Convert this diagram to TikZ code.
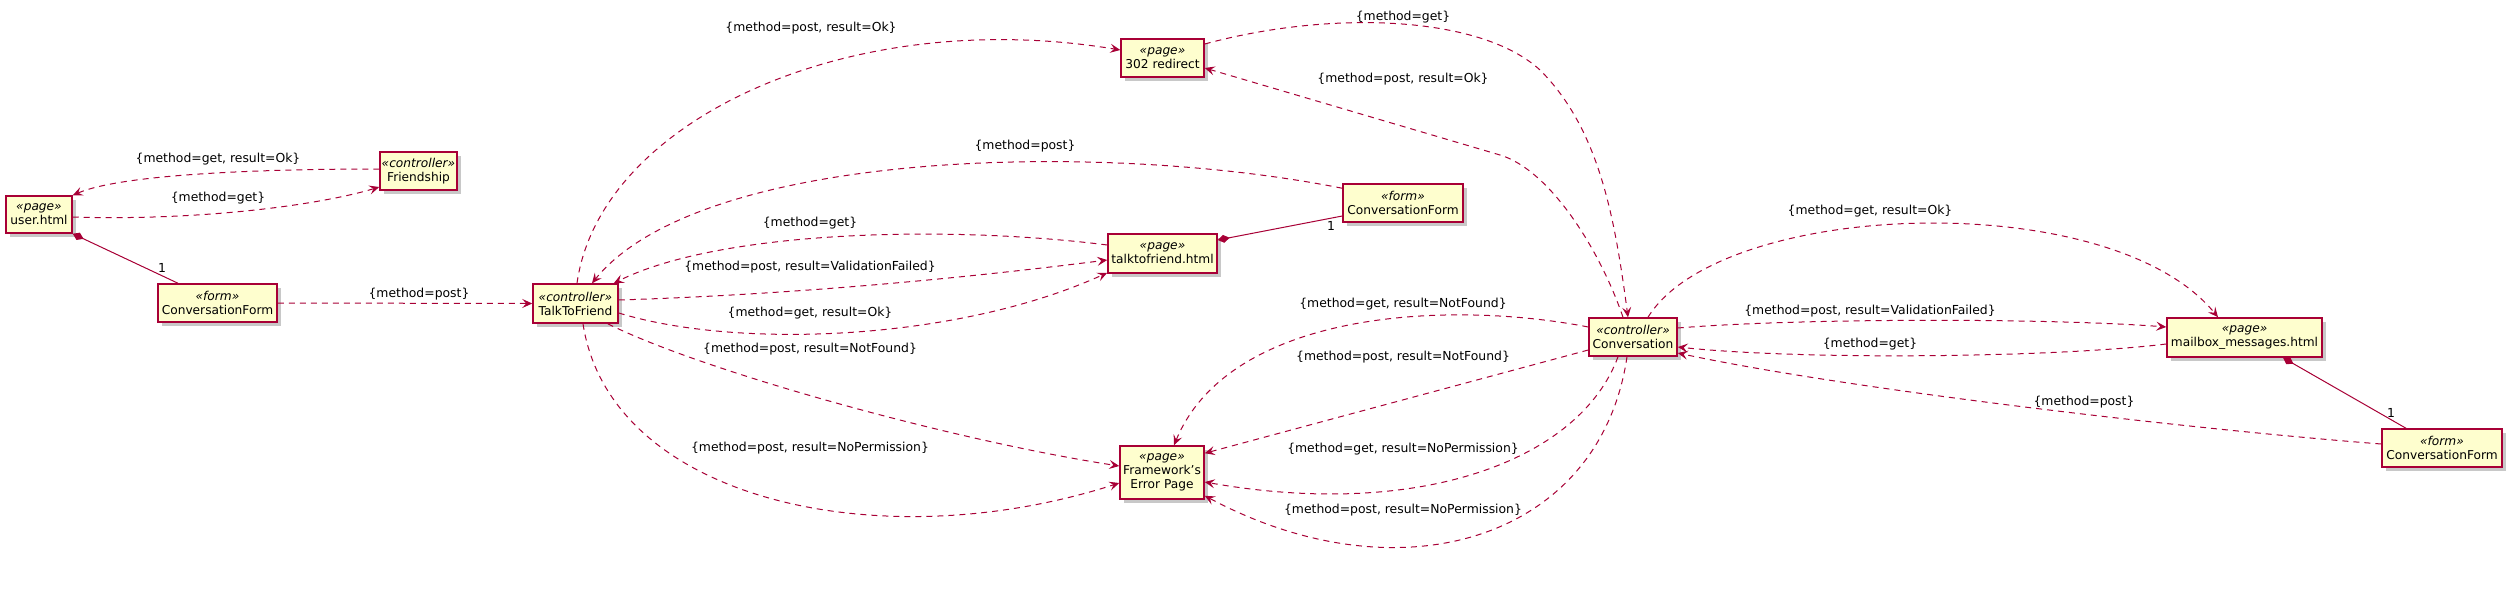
\documentclass[tikz,border=0pt]{standalone}
\usepackage{fontspec}
\setmainfont{DejaVu Sans}
\usetikzlibrary{arrows.meta,shadows}
\definecolor{umlred}{HTML}{A80036}
\definecolor{umlfill}{HTML}{FEFECE}
\tikzset{
  box/.style={draw=umlred, line width=1.5pt, fill=umlfill, inner sep=0pt, align=center,
    font=\fontsize{12.2}{14}\selectfont,
    drop shadow={shadow xshift=4pt, shadow yshift=-4pt, opacity=0.3, fill=black!70}},
  dep/.style={draw=umlred, line width=1pt, dash pattern=on 6pt off 5pt,
    -{Stealth[length=10pt,width=9pt,inset=4pt,fill=umlred]}},
  comp/.style={draw=umlred, line width=1pt, {Diamond[length=12pt,width=8pt,fill=umlred]}-},
  lbl/.style={inner sep=0pt, font=\fontsize{12.4}{14}\selectfont},
}
\newcommand{\st}[1]{{\itshape «#1»}}
\begin{document}
\begin{tikzpicture}[x=1pt,y=-1pt]
\useasboundingbox[fill=white] (0,0) rectangle (2511,589);
% nodes
\node[box, minimum width=66pt, minimum height=37pt] (user) at (39,214.5) {\st{page}\\user.html};
\node[box, minimum width=77pt, minimum height=38pt] (friend) at (418.5,171) {\st{controller}\\Friendship};
\node[box, minimum width=119pt, minimum height=38pt] (cfa) at (217.5,303) {\st{form}\\ConversationForm};
\node[box, minimum width=85pt, minimum height=39pt] (ttf) at (575.5,303.5) {\st{controller}\\TalkToFriend};
\node[box, minimum width=83pt, minimum height=38pt] (redir) at (1162.5,58) {\st{page}\\302 redirect};
\node[box, minimum width=120pt, minimum height=38pt] (cfb) at (1403,203) {\st{form}\\ConversationForm};
\node[box, minimum width=109pt, minimum height=39pt] (ttfh) at (1162.5,253.5) {\st{page}\\talktofriend.html};
\node[box, minimum width=84pt, minimum height=53pt] (err) at (1162,472.5) {\st{page}\\Framework's\\Error Page};
\node[box, minimum width=88pt, minimum height=38pt] (conv) at (1633,337) {\st{controller}\\Conversation};
\node[box, minimum width=155pt, minimum height=39pt] (mail) at (2244.5,337.5) {\st{page}\\mailbox\_messages.html};
\node[box, minimum width=120pt, minimum height=38pt] (cfc) at (2442,448) {\st{form}\\ConversationForm};

% connectors
\draw[dep] ([shift={(0,-2)}]friend.west) .. controls (250,169) and (120,175) .. (user.north east);
\draw[dep] ([shift={(0,2.5)}]user.east) .. controls (200,221) and (320,205) .. ([shift={(0,16)}]friend.west);
\draw[comp] (user.south east) -- ([shift={(-39.5,0)}]cfa.north);
\draw[dep] (cfa.east) -- (ttf.west);
\draw[dep] ([shift={(1.5,0)}]ttf.north) .. controls (600,120) and (850,5) .. ([shift={(0,-8)}]redir.west);
\draw[dep] ([shift={(0,5)}]cfb.north west) .. controls (1100,140) and (700,150) .. ([shift={(16.5,0)}]ttf.north);
\draw[dep] ([shift={(0,-8.5)}]ttfh.west) .. controls (950,225) and (720,230) .. ([shift={(-5,0)}]ttf.north east);
\draw[dep] ([shift={(0,-3.5)}]ttf.east) .. controls (780,295) and (950,280) .. ([shift={(0,6.5)}]ttfh.west);
\draw[dep] ([shift={(0,9.5)}]ttf.east) .. controls (740,350) and (960,340) .. ([shift={(0,-1)}]ttfh.south west);
\draw[dep] ([shift={(-11,0)}]ttf.south east) .. controls (700,370) and (950,440) .. ([shift={(0,-6.5)}]err.west);
\draw[dep] ([shift={(7.5,0)}]ttf.south) .. controls (610,500) and (880,560) .. ([shift={(0,10.5)}]err.west);
\draw[comp] ([shift={(0,-13.5)}]ttfh.east) -- ([shift={(0,13)}]cfb.west);
\draw[dep] ([shift={(0,-14)}]redir.east) .. controls (1330,10) and (1480,15) .. (1540,70) .. controls (1600,130) and (1615,220) .. ([shift={(-5,0)}]conv.north);
\draw[dep] ([shift={(-10,0)}]conv.north) .. controls (1600,250) and (1550,170) .. (1500,155) -- ([shift={(0,10)}]redir.east);
\draw[dep] ([shift={(0,-10)}]conv.west) .. controls (1450,300) and (1230,310) .. ([shift={(12,0)}]err.north);
\draw[dep] ([shift={(0,13)}]conv.west) -- ([shift={(0,8)}]err.north east);
\draw[dep] ([shift={(-15,0)}]conv.south) .. controls (1580,460) and (1420,520) .. ([shift={(0,9.5)}]err.east);
\draw[dep] ([shift={(-6,0)}]conv.south) .. controls (1600,540) and (1400,600) .. ([shift={(0,-4)}]err.south east);
\draw[dep] ([shift={(15,0)}]conv.north) .. controls (1720,200) and (2110,185) .. ([shift={(-26.5,0)}]mail.north);
\draw[dep] ([shift={(0,-9)}]conv.east) .. controls (1800,318) and (2050,318) .. ([shift={(0,-10.5)}]mail.west);
\draw[dep] ([shift={(0,6.5)}]mail.west) .. controls (2050,358) and (1800,360) .. ([shift={(0,10)}]conv.east);
\draw[dep] ([shift={(0,-4)}]cfc.west) .. controls (2200,430) and (1850,390) .. ([shift={(0,16)}]conv.east);
\draw[comp] ([shift={(38.5,0)}]mail.south) -- ([shift={(-36,0)}]cfc.north);

% labels
\node[lbl] (l1) at (218,159) {\{method=get, result=Ok\}};
\node[lbl] (l2) at (218,198) {\{method=get\}};
\node[lbl] (m1) at (162,268) {1};
\node[lbl] (l3) at (419,294) {\{method=post\}};
\node[lbl] (l4) at (811,28) {\{method=post, result=Ok\}};
\node[lbl] (l5) at (1025,146) {\{method=post\}};
\node[lbl] (l6) at (810,223) {\{method=get\}};
\node[lbl] (l7) at (810,267) {\{method=post, result=ValidationFailed\}};
\node[lbl] (l8) at (810,313) {\{method=get, result=Ok\}};
\node[lbl] (l9) at (810,349) {\{method=post, result=NotFound\}};
\node[lbl] (l10) at (810,448) {\{method=post, result=NoPermission\}};
\node[lbl] (m2) at (1331,226) {1};
\node[lbl] (l11) at (1403,17) {\{method=get\}};
\node[lbl] (l12) at (1403,79) {\{method=post, result=Ok\}};
\node[lbl] (l13) at (1403,304) {\{method=get, result=NotFound\}};
\node[lbl] (l14) at (1403,357) {\{method=post, result=NotFound\}};
\node[lbl] (l15) at (1403,449) {\{method=get, result=NoPermission\}};
\node[lbl] (l16) at (1403,510) {\{method=post, result=NoPermission\}};
\node[lbl] (l17) at (1870,211) {\{method=get, result=Ok\}};
\node[lbl] (l18) at (1870,311) {\{method=post, result=ValidationFailed\}};
\node[lbl] (l19) at (1870,344) {\{method=get\}};
\node[lbl] (l20) at (2084,402) {\{method=post\}};
\node[lbl] (m3) at (2391,413) {1};
\end{tikzpicture}
\end{document}
